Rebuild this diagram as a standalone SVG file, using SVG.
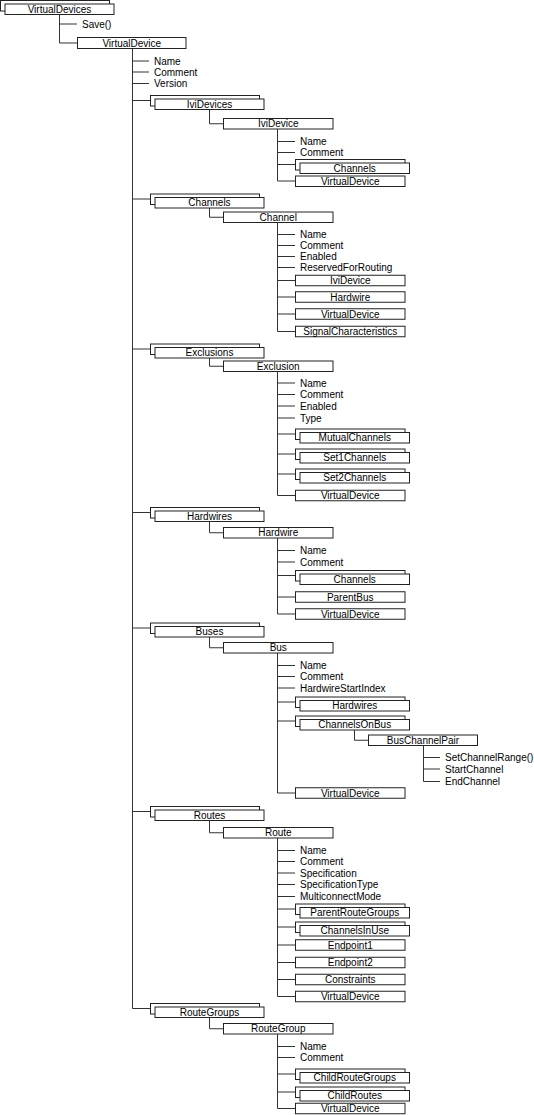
<svg xmlns="http://www.w3.org/2000/svg" width="534" height="1115" viewBox="0 0 534 1115">
<style>
.b{fill:#fff;stroke:#222;stroke-width:1}
.t{font-family:"Liberation Sans",Arial,sans-serif;font-size:10px;fill:#000}
.c{text-anchor:middle}
.l{stroke:#333;stroke-width:1;fill:none}
</style>
<rect width="534" height="1115" fill="#fff"/>
<g id="connectors" class="l">
<path d="M59.5 14.5V43M59.5 24H77M59.5 43H77.5"/>
<path d="M132.5 48.5V1008.5M132.5 61H149M132.5 72H149M132.5 83.5H149"/>
<path d="M132.5 100.5H150.5M132.5 199H150.5M132.5 349H150.5M132.5 512.5H150.5M132.5 628H150.5M132.5 811.5H150.5M132.5 1008.5H150.5"/>
<path d="M209.5 109.5V123.75H223.5M209.5 208V217.25H223.5M209.5 358V366.25H223.5M209.5 521.5V532.75H223.5M209.5 637V647.75H223.5M209.5 820.5V832.75H223.5M209.5 1017.5V1028.75H223.5"/>
<path d="M277.5 129V181M277.5 141.5H295M277.5 152.5H295M277.5 164.5H295.5M277.5 181H295.5"/>
<path d="M277.5 222.5V331.5M277.5 234.5H295M277.5 245.5H295M277.5 256.5H295M277.5 267.5H295M277.5 280.5H295.5M277.5 297H295.5M277.5 314H295.5M277.5 331.5H295.5"/>
<path d="M277.5 371.5V495.5M277.5 383H295M277.5 394.5H295M277.5 406H295M277.5 418H295M277.5 434H295.5M277.5 454H295.5M277.5 474H295.5M277.5 495.5H295.5"/>
<path d="M277.5 538V614M277.5 550.5H295M277.5 562H295M277.5 575.5H295.5M277.5 597H295.5M277.5 614H295.5"/>
<path d="M277.5 653V793M277.5 665.5H295M277.5 676.5H295M277.5 688H295M277.5 702H295.5M277.5 721H295.5M277.5 793H295.5"/>
<path d="M354.5 730V740.25H368.5M423.5 745.5V781.5M423.5 757.5H440M423.5 769H440M423.5 781.5H440"/>
<path d="M277.5 838V996.5M277.5 850.5H295M277.5 861.5H295M277.5 873H295M277.5 884.5H295M277.5 896.5H295M277.5 909H295.5M277.5 927H295.5M277.5 945H295.5M277.5 962.5H295.5M277.5 979.5H295.5M277.5 996.5H295.5"/>
<path d="M277.5 1034V1108.5M277.5 1046.5H295M277.5 1057.5H295M277.5 1074H295.5M277.5 1092H295.5M277.5 1108.5H295.5"/>
</g>
<g id="n-virtualdevices"><rect class="b" x="0.5" y="0.5" width="109" height="10.5"/><rect class="b" x="5" y="4" width="109" height="10.5"/><text class="t c" x="59.5" y="12.9">VirtualDevices</text></g>
<g id="n-save"><text class="t" x="82" y="27.6">Save()</text></g>
<g id="n-virtualdevice"><rect class="b" x="77.5" y="37.5" width="108.5" height="11"/><text class="t c" x="131.75" y="46.6">VirtualDevice</text></g>
<g id="n-vd-attrs"><text class="t" x="154" y="64.6">Name</text><text class="t" x="154" y="75.6">Comment</text><text class="t" x="154" y="87.1">Version</text></g>

<g id="n-ividevices"><rect class="b" x="150.5" y="95.5" width="109" height="10.5"/><rect class="b" x="155" y="99" width="109" height="10.5"/><text class="t c" x="209.5" y="107.9">IviDevices</text></g>
<g id="n-ividevice"><rect class="b" x="223.5" y="118.5" width="109.5" height="10.5"/><text class="t c" x="278.25" y="127.4">IviDevice</text></g>
<g id="n-ividevice-attrs"><text class="t" x="300" y="145.1">Name</text><text class="t" x="300" y="156.1">Comment</text></g>
<g id="n-ividevice-channels"><rect class="b" x="295.5" y="159.5" width="109.5" height="10.5"/><rect class="b" x="300" y="163" width="109.5" height="10.5"/><text class="t c" x="354.75" y="171.9">Channels</text></g>
<g id="n-ividevice-vd"><rect class="b" x="295.5" y="176" width="109.5" height="10.5"/><text class="t c" x="350.25" y="184.9">VirtualDevice</text></g>

<g id="n-channels"><rect class="b" x="150.5" y="194" width="109" height="10.5"/><rect class="b" x="155" y="197.5" width="109" height="10.5"/><text class="t c" x="209.5" y="206.4">Channels</text></g>
<g id="n-channel"><rect class="b" x="223.5" y="212" width="109.5" height="10.5"/><text class="t c" x="278.25" y="220.9">Channel</text></g>
<g id="n-channel-attrs"><text class="t" x="300" y="238.1">Name</text><text class="t" x="300" y="249.1">Comment</text><text class="t" x="300" y="260.1">Enabled</text><text class="t" x="300" y="271.1">ReservedForRouting</text></g>
<g id="n-channel-ividevice"><rect class="b" x="295.5" y="275.25" width="109.5" height="10.5"/><text class="t c" x="350.25" y="284.1">IviDevice</text></g>
<g id="n-channel-hardwire"><rect class="b" x="295.5" y="291.75" width="109.5" height="10.5"/><text class="t c" x="350.25" y="300.6">Hardwire</text></g>
<g id="n-channel-vd"><rect class="b" x="295.5" y="308.75" width="109.5" height="10.5"/><text class="t c" x="350.25" y="317.6">VirtualDevice</text></g>
<g id="n-channel-signal"><rect class="b" x="295.5" y="326.25" width="109.5" height="10.5"/><text class="t c" x="350.25" y="335.1">SignalCharacteristics</text></g>

<g id="n-exclusions"><rect class="b" x="150.5" y="344" width="109" height="10.5"/><rect class="b" x="155" y="347.5" width="109" height="10.5"/><text class="t c" x="209.5" y="356.4">Exclusions</text></g>
<g id="n-exclusion"><rect class="b" x="223.5" y="361" width="109.5" height="10.5"/><text class="t c" x="278.25" y="369.9">Exclusion</text></g>
<g id="n-exclusion-attrs"><text class="t" x="300" y="386.6">Name</text><text class="t" x="300" y="398.1">Comment</text><text class="t" x="300" y="409.6">Enabled</text><text class="t" x="300" y="421.6">Type</text></g>
<g id="n-mutualchannels"><rect class="b" x="295.5" y="429" width="109.5" height="10.5"/><rect class="b" x="300" y="432.5" width="109.5" height="10.5"/><text class="t c" x="354.75" y="441.4">MutualChannels</text></g>
<g id="n-set1channels"><rect class="b" x="295.5" y="449" width="109.5" height="10.5"/><rect class="b" x="300" y="452.5" width="109.5" height="10.5"/><text class="t c" x="354.75" y="461.4">Set1Channels</text></g>
<g id="n-set2channels"><rect class="b" x="295.5" y="469" width="109.5" height="10.5"/><rect class="b" x="300" y="472.5" width="109.5" height="10.5"/><text class="t c" x="354.75" y="481.4">Set2Channels</text></g>
<g id="n-exclusion-vd"><rect class="b" x="295.5" y="490.25" width="109.5" height="10.5"/><text class="t c" x="350.25" y="499.1">VirtualDevice</text></g>

<g id="n-hardwires"><rect class="b" x="150.5" y="507.5" width="109" height="10.5"/><rect class="b" x="155" y="511" width="109" height="10.5"/><text class="t c" x="209.5" y="519.9">Hardwires</text></g>
<g id="n-hardwire"><rect class="b" x="223.5" y="527.5" width="109.5" height="10.5"/><text class="t c" x="278.25" y="536.4">Hardwire</text></g>
<g id="n-hardwire-attrs"><text class="t" x="300" y="554.1">Name</text><text class="t" x="300" y="565.6">Comment</text></g>
<g id="n-hardwire-channels"><rect class="b" x="295.5" y="570.5" width="109.5" height="10.5"/><rect class="b" x="300" y="574" width="109.5" height="10.5"/><text class="t c" x="354.75" y="582.9">Channels</text></g>
<g id="n-parentbus"><rect class="b" x="295.5" y="591.75" width="109.5" height="10.5"/><text class="t c" x="350.25" y="600.6">ParentBus</text></g>
<g id="n-hardwire-vd"><rect class="b" x="295.5" y="608.75" width="109.5" height="10.5"/><text class="t c" x="350.25" y="617.6">VirtualDevice</text></g>

<g id="n-buses"><rect class="b" x="150.5" y="623" width="109" height="10.5"/><rect class="b" x="155" y="626.5" width="109" height="10.5"/><text class="t c" x="209.5" y="635.4">Buses</text></g>
<g id="n-bus"><rect class="b" x="223.5" y="642.5" width="109.5" height="10.5"/><text class="t c" x="278.25" y="651.4">Bus</text></g>
<g id="n-bus-attrs"><text class="t" x="300" y="669.1">Name</text><text class="t" x="300" y="680.1">Comment</text><text class="t" x="300" y="691.6">HardwireStartIndex</text></g>
<g id="n-bus-hardwires"><rect class="b" x="295.5" y="697" width="109.5" height="10.5"/><rect class="b" x="300" y="700.5" width="109.5" height="10.5"/><text class="t c" x="354.75" y="709.4">Hardwires</text></g>
<g id="n-channelsonbus"><rect class="b" x="295.5" y="716" width="109.5" height="10.5"/><rect class="b" x="300" y="719.5" width="109.5" height="10.5"/><text class="t c" x="354.75" y="728.4">ChannelsOnBus</text></g>
<g id="n-buschannelpair"><rect class="b" x="368.5" y="735" width="109" height="10.5"/><text class="t c" x="423" y="743.9">BusChannelPair</text></g>
<g id="n-buschannelpair-attrs"><text class="t" x="445" y="761.1">SetChannelRange()</text><text class="t" x="445" y="772.6">StartChannel</text><text class="t" x="445" y="785.1">EndChannel</text></g>
<g id="n-bus-vd"><rect class="b" x="295.5" y="787.75" width="109.5" height="10.5"/><text class="t c" x="350.25" y="796.6">VirtualDevice</text></g>

<g id="n-routes"><rect class="b" x="150.5" y="806.5" width="109" height="10.5"/><rect class="b" x="155" y="810" width="109" height="10.5"/><text class="t c" x="209.5" y="818.9">Routes</text></g>
<g id="n-route"><rect class="b" x="223.5" y="827.5" width="109.5" height="10.5"/><text class="t c" x="278.25" y="836.4">Route</text></g>
<g id="n-route-attrs"><text class="t" x="300" y="854.1">Name</text><text class="t" x="300" y="865.1">Comment</text><text class="t" x="300" y="876.6">Specification</text><text class="t" x="300" y="888.1">SpecificationType</text><text class="t" x="300" y="900.1">MulticonnectMode</text></g>
<g id="n-parentroutegroups"><rect class="b" x="295.5" y="904" width="109.5" height="10.5"/><rect class="b" x="300" y="907.5" width="109.5" height="10.5"/><text class="t c" x="354.75" y="916.4">ParentRouteGroups</text></g>
<g id="n-channelsinuse"><rect class="b" x="295.5" y="922" width="109.5" height="10.5"/><rect class="b" x="300" y="925.5" width="109.5" height="10.5"/><text class="t c" x="354.75" y="934.4">ChannelsInUse</text></g>
<g id="n-endpoint1"><rect class="b" x="295.5" y="939.75" width="109.5" height="10.5"/><text class="t c" x="350.25" y="948.6">Endpoint1</text></g>
<g id="n-endpoint2"><rect class="b" x="295.5" y="957.25" width="109.5" height="10.5"/><text class="t c" x="350.25" y="966.1">Endpoint2</text></g>
<g id="n-constraints"><rect class="b" x="295.5" y="974.25" width="109.5" height="10.5"/><text class="t c" x="350.25" y="983.1">Constraints</text></g>
<g id="n-route-vd"><rect class="b" x="295.5" y="991.25" width="109.5" height="10.5"/><text class="t c" x="350.25" y="1000.1">VirtualDevice</text></g>

<g id="n-routegroups"><rect class="b" x="150.5" y="1003.5" width="109" height="10.5"/><rect class="b" x="155" y="1007" width="109" height="10.5"/><text class="t c" x="209.5" y="1015.9">RouteGroups</text></g>
<g id="n-routegroup"><rect class="b" x="223.5" y="1023.5" width="109.5" height="10.5"/><text class="t c" x="278.25" y="1032.4">RouteGroup</text></g>
<g id="n-routegroup-attrs"><text class="t" x="300" y="1050.1">Name</text><text class="t" x="300" y="1061.1">Comment</text></g>
<g id="n-childroutegroups"><rect class="b" x="295.5" y="1069" width="109.5" height="10.5"/><rect class="b" x="300" y="1072.5" width="109.5" height="10.5"/><text class="t c" x="354.75" y="1081.4">ChildRouteGroups</text></g>
<g id="n-childroutes"><rect class="b" x="295.5" y="1087" width="109.5" height="10.5"/><rect class="b" x="300" y="1090.5" width="109.5" height="10.5"/><text class="t c" x="354.75" y="1099.4">ChildRoutes</text></g>
<g id="n-routegroup-vd"><rect class="b" x="295.5" y="1103.25" width="109.5" height="10.5"/><text class="t c" x="350.25" y="1112.1">VirtualDevice</text></g>
</svg>
